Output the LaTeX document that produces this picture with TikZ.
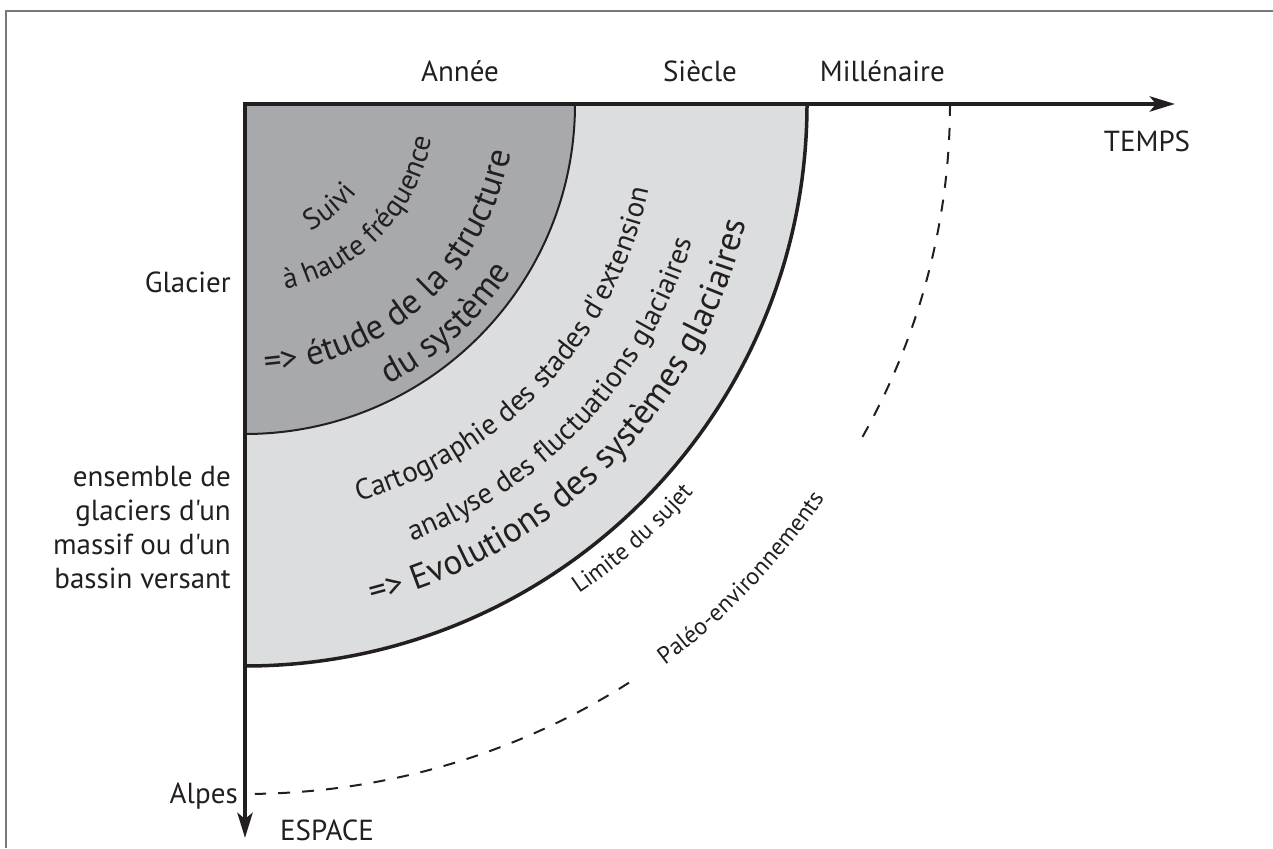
\documentclass[tikz,border=0pt]{standalone}
\usepackage{fontspec}
\setmainfont{PT Sans}[Ligatures=TeXOff]
\usetikzlibrary{arrows.meta,decorations.text,calc}
\definecolor{darkfill}{RGB}{167,169,172}
\definecolor{lightfill}{RGB}{220,221,222}
\definecolor{ink}{RGB}{35,31,32}
\definecolor{framegray}{RGB}{120,120,120}
\newcommand\fsN{\fontsize{29}{34}\selectfont}
\newcommand\fsB{\fontsize{35}{40}\selectfont}
\newcommand\fsS{\fontsize{24}{28}\selectfont}
% #1 radius, #2 centre angle, #3 font, #4 text
\newcommand\ArcLabel[4]{%
  \path[decorate,decoration={text along path,text align=center,text color=ink,text={|#3|#4}}]
    ($(O)+({#2-50}:#1)$) arc[start angle={#2-50},end angle={#2+50},radius=#1];}
\begin{document}
\begin{tikzpicture}[x=1pt,y=1pt,
  lbl/.style={text=ink,font=\fsN,inner sep=0pt},
  axisline/.style={draw=ink,line width=4.5pt,line join=miter},
  tip/.style={Stealth[length=25pt,width=15pt,inset=6pt]},
  dashline/.style={draw=ink,line width=2pt,dash pattern=on 12pt off 12pt}]
\useasboundingbox (0,0) rectangle (1273,848);
\coordinate (O) at (245,744);
\coordinate (tEnd) at (1175,744);
\coordinate (sEnd) at (245,10);
% frame
\draw[framegray,line width=1.5pt] (6,0) -- (6,837) -- (1273,837);
% regions
\fill[lightfill] (O) -- ($(O)+(562,0)$) arc[start angle=0,end angle=-90,radius=562] -- cycle;
\fill[darkfill] (O) -- ($(O)+(330,0)$) arc[start angle=0,end angle=-90,radius=330] -- cycle;
\draw[ink,line width=2pt] ($(O)+(330,0)$) arc[start angle=0,end angle=-90,radius=330];
\draw[ink,line width=3.5pt] ($(O)+(562,0)$) arc[start angle=0,end angle=-90,radius=562];
% dashed limit
\draw[dashline] ($(O)+(705,0)$) arc[start angle=0,end angle=-29.5,x radius=705,y radius=690];
\draw[dashline] ($(O)+({705*cos(-57)},{690*sin(-57)})$) arc[start angle=-57,end angle=-89.2,x radius=705,y radius=690];
% axes
\draw[axisline,{Stealth[length=25pt,width=15pt,inset=6pt]}-{Stealth[length=25pt,width=15pt,inset=6pt]}] (sEnd) -- (O) -- (tEnd);
% axis labels
\node[lbl,anchor=base] (annee) at (460,766) {Année};
\node[lbl,anchor=base] (siecle) at (700,766) {Siècle};
\node[lbl,anchor=base east] (mill) at (945,766) {Millénaire};
\node[lbl,anchor=base] (temps) at (1147,696) {TEMPS};
\node[lbl,anchor=base east] (glacier) at (231,555) {Glacier};
\node[lbl,anchor=base east] (ens1) at (231,361) {ensemble de};
\node[lbl,anchor=base east] (ens2) at (231,327) {glaciers d'un};
\node[lbl,anchor=base east] (ens3) at (231,293) {massif ou d'un};
\node[lbl,anchor=base east] (ens4) at (231,259) {bassin versant};
\node[lbl,anchor=base east] (alpes) at (238,45) {Alpes};
\node[lbl,anchor=base west] (espace) at (280,8) {ESPACE};
% curved texts
\ArcLabel{143}{-50.5}{\fsN}{Suivi}
\ArcLabel{190}{-44}{\fsN}{à haute fréquence}
\ArcLabel{270}{-48}{\fsB}{=> étude de la structure}
\ArcLabel{315}{-47.5}{\fsB}{du système}
\ArcLabel{413}{-43}{\fsN}{Cartographie des stades d'extension}
\ArcLabel{468}{-43}{\fsN}{analyse des fluctuations glaciaires}
\ArcLabel{515}{-44.5}{\fsB}{=> Evolutions des systèmes glaciaires}
\ArcLabel{593}{-48.3}{\fsS}{Limite du sujet}
\ArcLabel{701}{-43.7}{\fsS}{Paléo-environnements}
\end{tikzpicture}
\end{document}
